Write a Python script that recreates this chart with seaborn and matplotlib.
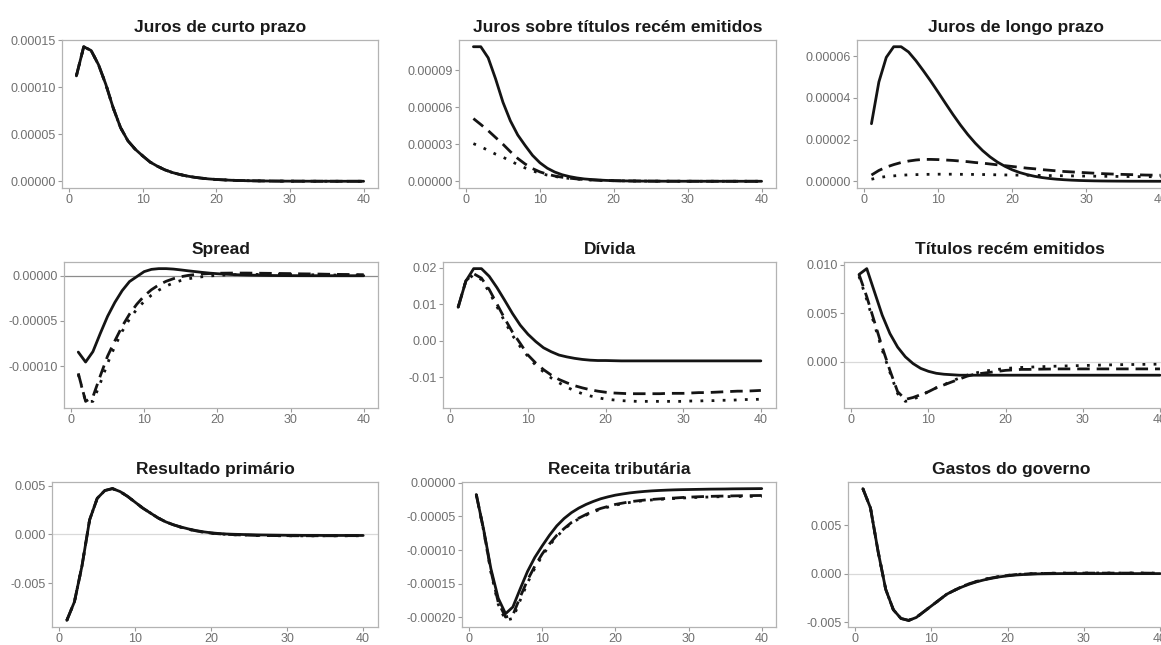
import numpy as np
import pandas as pd
import matplotlib
matplotlib.use("Agg")
import matplotlib.pyplot as plt
import seaborn as sns

# horizonte das funcoes impulso-resposta
horizonte = list(range(1, 41))

# Juros de curto prazo (as tres series coincidem)
curto_a = [1.12e-4, 1.43e-4, 1.39e-4, 1.24e-4, 1.03e-4, 7.8e-5, 5.7e-5, 4.3e-5, 3.4e-5, 2.7e-5,
           2.05e-5, 1.6e-5, 1.22e-5, 9.4e-6, 7.3e-6, 5.6e-6, 4.3e-6, 3.3e-6, 2.5e-6, 1.9e-6,
           1.5e-6, 1.1e-6, 8.5e-7, 6.5e-7, 5e-7, 3.8e-7, 2.9e-7, 2.2e-7, 1.7e-7, 1.3e-7,
           1e-7, 8e-8, 6e-8, 4.5e-8, 3.5e-8, 2.7e-8, 2e-8, 1.5e-8, 1.2e-8, 1e-8]
curto_b = curto_a
curto_c = curto_a

# Juros sobre titulos recem emitidos
novos_a = [1.09e-4, 1.09e-4, 1.0e-4, 8.3e-5, 6.4e-5, 4.9e-5, 3.75e-5, 2.9e-5, 2.1e-5, 1.5e-5,
           1.06e-5, 7.5e-6, 5.3e-6, 3.8e-6, 2.7e-6, 1.9e-6, 1.4e-6, 1.0e-6, 7e-7, 5e-7,
           3.6e-7, 2.6e-7, 1.9e-7, 1.4e-7, 1e-7, 7e-8, 5e-8, 4e-8, 3e-8, 2e-8,
           1.5e-8, 1e-8, 8e-9, 6e-9, 4e-9, 3e-9, 2e-9, 2e-9, 1e-9, 1e-9]
novos_b = [5.08e-5, 4.6e-5, 4.1e-5, 3.55e-5, 3.0e-5, 2.4e-5, 1.85e-5, 1.4e-5, 1.03e-5, 7.6e-6,
           5.7e-6, 4.3e-6, 3.3e-6, 2.5e-6, 1.9e-6, 1.4e-6, 1.05e-6, 8e-7, 6e-7, 4.5e-7,
           3.4e-7, 2.6e-7, 2e-7, 1.5e-7, 1.1e-7, 8e-8, 6e-8, 4.5e-8, 3.4e-8, 2.5e-8,
           1.9e-8, 1.4e-8, 1e-8, 8e-9, 6e-9, 4e-9, 3e-9, 2e-9, 2e-9, 1e-9]
novos_c = [3.05e-5, 2.8e-5, 2.5e-5, 2.2e-5, 1.95e-5, 1.65e-5, 1.35e-5, 1.08e-5, 8.5e-6, 6.5e-6,
           5e-6, 3.9e-6, 3e-6, 2.3e-6, 1.8e-6, 1.4e-6, 1.05e-6, 8e-7, 6e-7, 4.6e-7,
           3.5e-7, 2.7e-7, 2e-7, 1.5e-7, 1.2e-7, 9e-8, 7e-8, 5e-8, 4e-8, 3e-8,
           2.2e-8, 1.7e-8, 1.3e-8, 1e-8, 7e-9, 5e-9, 4e-9, 3e-9, 2e-9, 1e-9]

# Juros de longo prazo
longo_a = [2.76e-5, 4.76e-5, 5.94e-5, 6.45e-5, 6.45e-5, 6.2e-5, 5.78e-5, 5.3e-5, 4.8e-5, 4.27e-5,
           3.73e-5, 3.2e-5, 2.7e-5, 2.24e-5, 1.83e-5, 1.47e-5, 1.17e-5, 9.2e-6, 7.2e-6, 5.5e-6,
           4.2e-6, 3.2e-6, 2.4e-6, 1.8e-6, 1.35e-6, 1.0e-6, 7.5e-7, 5.5e-7, 4e-7, 3e-7,
           2.2e-7, 1.6e-7, 1.2e-7, 9e-8, 7e-8, 5e-8, 4e-8, 3e-8, 2e-8, 1.5e-8]
longo_b = [3.0e-6, 5.2e-6, 6.8e-6, 8.0e-6, 9.0e-6, 9.7e-6, 1.02e-5, 1.05e-5, 1.05e-5, 1.04e-5,
           1.02e-5, 1.0e-5, 9.7e-6, 9.4e-6, 9.0e-6, 8.7e-6, 8.3e-6, 7.9e-6, 7.5e-6, 7.1e-6,
           6.7e-6, 6.3e-6, 6.0e-6, 5.6e-6, 5.3e-6, 5.0e-6, 4.7e-6, 4.5e-6, 4.3e-6, 4.1e-6,
           3.9e-6, 3.7e-6, 3.55e-6, 3.4e-6, 3.3e-6, 3.2e-6, 3.1e-6, 3.0e-6, 2.95e-6, 2.9e-6]
longo_c = [1.0e-6, 1.8e-6, 2.3e-6, 2.6e-6, 2.9e-6, 3.1e-6, 3.2e-6, 3.3e-6, 3.35e-6, 3.4e-6,
           3.4e-6, 3.4e-6, 3.35e-6, 3.3e-6, 3.3e-6, 3.25e-6, 3.2e-6, 3.1e-6, 3.05e-6, 3.0e-6,
           2.95e-6, 2.9e-6, 2.85e-6, 2.8e-6, 2.75e-6, 2.7e-6, 2.65e-6, 2.6e-6, 2.55e-6, 2.5e-6,
           2.45e-6, 2.4e-6, 2.38e-6, 2.35e-6, 2.3e-6, 2.28e-6, 2.25e-6, 2.22e-6, 2.2e-6, 2.2e-6]

# Spread
spread_a = [-8.45e-5, -9.55e-5, -8.4e-5, -6.4e-5, -4.5e-5, -2.95e-5, -1.65e-5, -6.5e-6, -1e-6, 4.5e-6,
            7e-6, 7.8e-6, 7.8e-6, 7.3e-6, 6.4e-6, 5.4e-6, 4.5e-6, 3.6e-6, 2.8e-6, 2.2e-6,
            1.7e-6, 1.3e-6, 9.5e-7, 7e-7, 5e-7, 3.5e-7, 2.4e-7, 1.6e-7, 1e-7, 6e-8,
            3e-8, 1e-8, 0.0, -1e-8, -2e-8, -2e-8, -3e-8, -3e-8, -3e-8, -3e-8]
spread_b = [-1.08e-4, -1.39e-4, -1.34e-4, -1.11e-4, -8.9e-5, -7.2e-5, -5.6e-5, -4.25e-5, -3.15e-5, -2.25e-5,
            -1.55e-5, -1.02e-5, -6.2e-6, -3.3e-6, -1.2e-6, 3e-7, 1.3e-6, 2.0e-6, 2.4e-6, 2.7e-6,
            2.8e-6, 2.9e-6, 2.9e-6, 2.9e-6, 2.8e-6, 2.7e-6, 2.6e-6, 2.5e-6, 2.4e-6, 2.3e-6,
            2.1e-6, 2.0e-6, 1.9e-6, 1.8e-6, 1.6e-6, 1.5e-6, 1.4e-6, 1.3e-6, 1.2e-6, 1.1e-6]
spread_c = [-1.09e-4, -1.39e-4, -1.39e-4, -1.19e-4, -9.7e-5, -7.8e-5, -6.15e-5, -4.8e-5, -3.7e-5, -2.85e-5,
            -2.15e-5, -1.6e-5, -1.15e-5, -8e-6, -5.4e-6, -3.5e-6, -2.1e-6, -1.1e-6, -3e-7, 3e-7,
            7e-7, 1.0e-6, 1.2e-6, 1.3e-6, 1.4e-6, 1.4e-6, 1.4e-6, 1.4e-6, 1.3e-6, 1.3e-6,
            1.2e-6, 1.1e-6, 1.0e-6, 9e-7, 8e-7, 7e-7, 6e-7, 6e-7, 5e-7, 5e-7]

# Divida
divida_a = [0.0092, 0.0164, 0.0198, 0.0198, 0.0177, 0.0146, 0.0111, 0.0075, 0.0043, 0.0018,
            -0.0002, -0.0019, -0.0030, -0.0039, -0.0044, -0.0048, -0.0051, -0.0053, -0.0054, -0.0054,
            -0.00545, -0.0055, -0.0055, -0.0055, -0.0055, -0.0055, -0.0055, -0.0055, -0.0055, -0.0055,
            -0.0055, -0.0055, -0.0055, -0.0055, -0.0055, -0.0055, -0.0055, -0.0055, -0.0055, -0.0055]
divida_b = [0.0092, 0.0165, 0.0184, 0.0172, 0.0141, 0.0101, 0.0061, 0.0024, -0.0007, -0.0039,
            -0.0061, -0.0079, -0.0094, -0.0106, -0.0115, -0.0123, -0.0129, -0.0134, -0.0138, -0.0141,
            -0.0143, -0.0144, -0.0145, -0.0145, -0.0145, -0.0145, -0.0145, -0.0144, -0.0144, -0.0144,
            -0.0143, -0.0142, -0.0142, -0.0141, -0.0140, -0.0139, -0.0138, -0.0138, -0.0137, -0.0136]
divida_c = [0.0092, 0.0165, 0.0181, 0.0168, 0.0134, 0.0094, 0.0053, 0.0015, -0.0016, -0.0043,
            -0.0067, -0.0085, -0.0102, -0.0115, -0.0127, -0.0137, -0.0145, -0.0151, -0.0156, -0.0160,
            -0.0162, -0.0164, -0.0165, -0.0166, -0.0166, -0.0166, -0.0166, -0.0166, -0.0166, -0.0166,
            -0.0165, -0.0165, -0.0164, -0.0164, -0.0163, -0.0163, -0.0162, -0.0161, -0.0161, -0.0160]

# Titulos recem emitidos
titulos_a = [0.0090, 0.0096, 0.0072, 0.0048, 0.0029, 0.0015, 0.0005, -0.0002, -0.0007, -0.0010,
             -0.0012, -0.0013, -0.00135, -0.0014, -0.0014, -0.0014, -0.0014, -0.0014, -0.0014, -0.0014,
             -0.0014, -0.0014, -0.0014, -0.0014, -0.0014, -0.0014, -0.0014, -0.0014, -0.0014, -0.0014,
             -0.0014, -0.0014, -0.0014, -0.0014, -0.0014, -0.0014, -0.0014, -0.0014, -0.0014, -0.0014]
titulos_b = [0.0090, 0.0067, 0.0041, 0.0015, -0.0009, -0.0031, -0.0039, -0.0037, -0.0034, -0.0031,
             -0.0027, -0.0024, -0.0021, -0.0018, -0.0015, -0.0013, -0.0012, -0.0011, -0.0010, -0.0009,
             -0.00085, -0.0008, -0.0008, -0.00078, -0.00077, -0.00076, -0.00075, -0.00075, -0.00075, -0.00075,
             -0.00075, -0.00075, -0.00075, -0.00075, -0.00075, -0.00075, -0.00075, -0.00075, -0.00075, -0.00075]
titulos_c = [0.0088, 0.0064, 0.0038, 0.0012, -0.0011, -0.0033, -0.0041, -0.0039, -0.0035, -0.0031,
             -0.0027, -0.0024, -0.0020, -0.0017, -0.0014, -0.0012, -0.0010, -0.0009, -0.0008, -0.0007,
             -0.00065, -0.0006, -0.00057, -0.00054, -0.00051, -0.00048, -0.00046, -0.00044, -0.00042, -0.0004,
             -0.00038, -0.00036, -0.00034, -0.00033, -0.00031, -0.0003, -0.00029, -0.00028, -0.00027, -0.00026]

# Resultado primario
primario_a = [-0.0088, -0.0069, -0.0032, 0.0015, 0.0037, 0.0045, 0.0047, 0.0044, 0.0039, 0.0033,
              0.0027, 0.0022, 0.0017, 0.0013, 0.0010, 0.00077, 0.00057, 0.0004, 0.00027, 0.00017,
              0.0001, 0.00005, 0.00002, 0.0, -0.00002, -0.00004, -0.00005, -0.00006, -0.00007, -0.00008,
              -0.00008, -0.00009, -0.00009, -0.00009, -0.0001, -0.0001, -0.0001, -0.0001, -0.0001, -0.0001]
primario_b = [-0.0088, -0.0069, -0.0032, 0.0015, 0.0037, 0.0045, 0.0047, 0.0044, 0.0039, 0.0033,
              0.0027, 0.0022, 0.0017, 0.0013, 0.0010, 0.00075, 0.00054, 0.00037, 0.00024, 0.00014,
              0.00007, 0.00002, -0.00002, -0.00005, -0.00007, -0.00009, -0.0001, -0.00011, -0.00012, -0.00012,
              -0.00013, -0.00013, -0.00013, -0.00013, -0.00013, -0.00013, -0.00013, -0.00012, -0.00012, -0.00012]
primario_c = [-0.0088, -0.0069, -0.0032, 0.0015, 0.0037, 0.0045, 0.0047, 0.0044, 0.0039, 0.0033,
              0.0027, 0.0022, 0.0017, 0.0013, 0.0010, 0.00074, 0.00053, 0.00036, 0.00023, 0.00013,
              0.00006, 0.00001, -0.00003, -0.00006, -0.00008, -0.0001, -0.00011, -0.00012, -0.00013, -0.00013,
              -0.00014, -0.00014, -0.00014, -0.00014, -0.00014, -0.00014, -0.00013, -0.00013, -0.00013, -0.00013]

# Receita tributaria
receita_a = [-1.72e-5, -6.9e-5, -1.28e-4, -1.72e-4, -1.95e-4, -1.85e-4, -1.58e-4, -1.32e-4, -1.11e-4, -9.4e-5,
             -7.8e-5, -6.4e-5, -5.3e-5, -4.43e-5, -3.75e-5, -3.2e-5, -2.75e-5, -2.36e-5, -2.07e-5, -1.82e-5,
             -1.64e-5, -1.48e-5, -1.36e-5, -1.26e-5, -1.18e-5, -1.12e-5, -1.07e-5, -1.03e-5, -1.0e-5, -9.8e-6,
             -9.6e-6, -9.4e-6, -9.2e-6, -9.1e-6, -9.0e-6, -8.8e-6, -8.7e-6, -8.6e-6, -8.5e-6, -8.4e-6]
receita_b = [-1.72e-5, -7.0e-5, -1.31e-4, -1.78e-4, -2.0e-4, -1.97e-4, -1.70e-4, -1.45e-4, -1.24e-4, -1.06e-4,
             -9.1e-5, -7.8e-5, -6.8e-5, -5.9e-5, -5.25e-5, -4.7e-5, -4.2e-5, -3.8e-5, -3.5e-5, -3.2e-5,
             -3.0e-5, -2.8e-5, -2.67e-5, -2.55e-5, -2.46e-5, -2.38e-5, -2.31e-5, -2.25e-5, -2.18e-5, -2.12e-5,
             -2.07e-5, -2.03e-5, -2.0e-5, -1.97e-5, -1.95e-5, -1.93e-5, -1.91e-5, -1.9e-5, -1.88e-5, -1.87e-5]
receita_c = [-1.72e-5, -7.1e-5, -1.33e-4, -1.81e-4, -2.05e-4, -2.02e-4, -1.75e-4, -1.49e-4, -1.27e-4, -1.09e-4,
             -9.3e-5, -8.0e-5, -6.9e-5, -6.0e-5, -5.35e-5, -4.8e-5, -4.3e-5, -3.9e-5, -3.6e-5, -3.3e-5,
             -3.1e-5, -2.9e-5, -2.75e-5, -2.63e-5, -2.53e-5, -2.45e-5, -2.38e-5, -2.32e-5, -2.26e-5, -2.2e-5,
             -2.16e-5, -2.12e-5, -2.09e-5, -2.06e-5, -2.04e-5, -2.02e-5, -2.01e-5, -2.0e-5, -2.0e-5, -2.0e-5]

# Gastos do governo
gastos_a = [0.0088, 0.0068, 0.0023, -0.0016, -0.0037, -0.0046, -0.0048, -0.0045, -0.0039, -0.0033,
            -0.0027, -0.0021, -0.0017, -0.00135, -0.00105, -0.0008, -0.0006, -0.00044, -0.0003, -0.0002,
            -0.00012, -0.00007, -0.00003, 0.0, 0.00001, 0.00002, 0.00003, 0.00003, 0.00003, 0.00003,
            0.00003, 0.00003, 0.00003, 0.00003, 0.00003, 0.00003, 0.00003, 0.00003, 0.00003, 0.00003]
gastos_b = [0.0088, 0.0068, 0.0023, -0.0016, -0.0037, -0.0046, -0.0048, -0.0045, -0.0039, -0.0033,
            -0.0027, -0.0021, -0.0017, -0.0013, -0.001, -0.00076, -0.00056, -0.0004, -0.00026, -0.00016,
            -0.00008, -0.00003, 0.00001, 0.00003, 0.00005, 0.00006, 0.00007, 0.00007, 0.00008, 0.00008,
            0.00008, 0.00008, 0.00008, 0.00008, 0.00008, 0.00008, 0.00008, 0.00008, 0.00007, 0.00007]
gastos_c = [0.0088, 0.0068, 0.0023, -0.0016, -0.0037, -0.0046, -0.0048, -0.0045, -0.0039, -0.0033,
            -0.0027, -0.0021, -0.0017, -0.0013, -0.001, -0.00075, -0.00055, -0.00039, -0.00025, -0.00015,
            -0.00007, -0.00002, 0.00002, 0.00004, 0.00006, 0.00007, 0.00008, 0.00008, 0.00009, 0.00009,
            0.00009, 0.00009, 0.00009, 0.00009, 0.00009, 0.00009, 0.00009, 0.00008, 0.00008, 0.00008]

titulos_paineis = ["Juros de curto prazo", "Juros sobre títulos recém emitidos", "Juros de longo prazo",
                   "Spread", "Dívida", "Títulos recém emitidos",
                   "Resultado primário", "Receita tributária", "Gastos do governo"]

series = [(curto_a, curto_b, curto_c), (novos_a, novos_b, novos_c), (longo_a, longo_b, longo_c),
          (spread_a, spread_b, spread_c), (divida_a, divida_b, divida_c), (titulos_a, titulos_b, titulos_c),
          (primario_a, primario_b, primario_c), (receita_a, receita_b, receita_c), (gastos_a, gastos_b, gastos_c)]

# marcas do eixo y e casas decimais
y_ticks = [[0, 5e-5, 1e-4, 1.5e-4], [0, 3e-5, 6e-5, 9e-5], [0, 2e-5, 4e-5, 6e-5],
           [-1e-4, -5e-5, 0], [-0.01, 0, 0.01, 0.02], [0, 0.005, 0.01],
           [-0.005, 0, 0.005], [-2e-4, -1.5e-4, -1e-4, -5e-5, 0], [-0.005, 0, 0.005]]
casas = [5, 5, 5, 5, 2, 3, 3, 5, 3]
linha_zero = [None, None, None, "#8c8c8c", None, "#d9d9d9", "#d9d9d9", None, "#d9d9d9"]

# layout em pixels (esq, topo, dir, base) -- coluna direita cortada como no original
W, H = 1161, 645
caixas = [(62, 40, 378, 188), (459, 40, 776, 188), (857, 40, 1175, 188),
          (64, 262, 378, 408), (443, 262, 776, 408), (844, 262, 1175, 408),
          (52, 482, 378, 627), (462, 482, 776, 627), (848, 482, 1175, 627)]

sns.set_theme(style="white")
plt.rcParams["font.family"] = ["Liberation Sans", "DejaVu Sans"]

fig = plt.figure(figsize=(W / 100, H / 100), dpi=100)

estilos = {"a": "", "b": (4.5, 2.5), "c": (1, 3)}

for i in range(9):
    l, t, r, b = caixas[i]
    ax = fig.add_axes([l / W, 1 - b / H, (r - l) / W, (b - t) / H])
    sa, sb, sc = series[i]
    df = pd.DataFrame({
        "h": horizonte * 3,
        "valor": list(sa) + list(sb) + list(sc),
        "cenario": ["a"] * 40 + ["b"] * 40 + ["c"] * 40,
    })
    if linha_zero[i] is not None:
        ax.axhline(0, color=linha_zero[i], lw=0.9, zorder=1)
    sns.lineplot(data=df, x="h", y="valor", style="cenario", dashes=estilos,
                 color="#141414", linewidth=2.0, legend=False, ax=ax, zorder=3)

    lo, hi = df["valor"].min(), df["valor"].max()
    pad = 0.05 * (hi - lo)
    ax.set_ylim(lo - pad, hi + pad)
    ax.set_xlim(1 - 1.95, 40 + 1.95)
    ax.set_xticks([0, 10, 20, 30, 40])
    ax.set_yticks(y_ticks[i])
    ax.set_yticklabels([f"{v:.{casas[i]}f}" for v in y_ticks[i]])
    ax.set_xlabel("")
    ax.set_ylabel("")
    ax.set_title(titulos_paineis[i], fontsize=12.5, fontweight="bold", color="#1a1a1a", pad=6)
    for s in ax.spines.values():
        s.set_color("#b3b3b3")
        s.set_linewidth(0.9)
    ax.tick_params(axis="both", length=3, width=0.8, color="#9a9a9a",
                   labelcolor="#707070", labelsize=9, pad=1.5, bottom=True, left=True)

fig.savefig("out.png", dpi=100, facecolor="white")
